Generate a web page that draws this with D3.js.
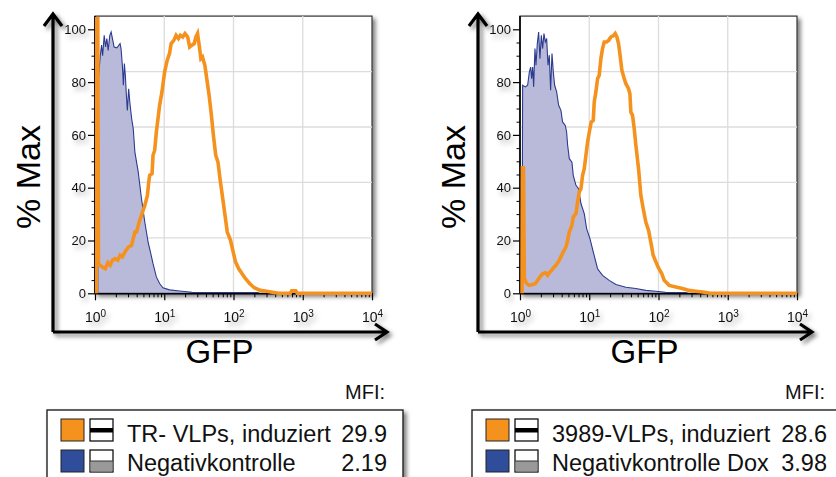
<!DOCTYPE html>
<html>
<head>
<meta charset="utf-8">
<script src="https://cdn.jsdelivr.net/npm/d3@7"></script>
<style>
  body { margin: 0; background: #fff; }
  svg { display: block; font-family: "Liberation Sans", Arial, sans-serif; }
</style>
</head>
<body>
<div id="chart"></div>
<script>
// Histogram values: [log10(GFP), % of max]
const trVlpInduced = [
  [0.02, 0], [0.02, 104], [0.04, 104], [0.05, 11.2], [0.1, 10], [0.148, 9.3], [0.186, 11.6],
  [0.219, 10.6], [0.252, 12.5], [0.29, 13.1], [0.329, 12.5], [0.362, 14.4], [0.395, 13.8],
  [0.433, 15.7], [0.481, 17.5], [0.529, 18.2], [0.552, 20.7], [0.576, 23.2], [0.6, 23.2],
  [0.638, 27], [0.671, 29.5], [0.719, 33.3], [0.757, 37.1], [0.776, 42.2], [0.79, 44.7],
  [0.824, 45.3], [0.838, 52.3], [0.862, 54.2], [0.886, 61.1], [0.91, 66.2], [0.933, 71.2],
  [0.967, 76.3], [1.005, 83.8], [1.043, 88.3], [1.076, 90.8], [1.1, 94.6], [1.138, 95.8],
  [1.171, 97.7], [1.205, 96.5], [1.233, 97.7], [1.267, 97.1], [1.3, 98.4], [1.338, 97.1],
  [1.367, 93.3], [1.395, 93.9], [1.433, 94.6], [1.457, 97.1], [1.481, 98.4], [1.505, 93.9],
  [1.529, 88.9], [1.552, 89.5], [1.586, 86.4], [1.614, 81.3], [1.648, 75], [1.681, 67.4],
  [1.71, 59.8], [1.743, 52.3], [1.776, 49.7], [1.805, 43.4], [1.838, 37.1], [1.871, 30.8],
  [1.91, 23.2], [1.957, 20.1], [1.995, 15.7], [2.029, 11.9], [2.076, 9.3], [2.124, 7.4],
  [2.171, 5.6], [2.233, 3.7], [2.3, 2.1], [2.386, 1.1], [2.48, 0.8], [2.56, 0.4], [2.65, 0],
  [2.82, 0], [2.84, 0.9], [2.9, 0.9], [2.92, 0], [4, 0]
];
const negControl = [
  [0.04, 0], [0.045, 80], [0.076, 90], [0.095, 94], [0.11, 90], [0.133, 97.7], [0.152, 93.3],
  [0.171, 96.5], [0.19, 92], [0.214, 97.7], [0.233, 99], [0.252, 96.5], [0.276, 93.3],
  [0.314, 93], [0.338, 93.7], [0.362, 94.6], [0.376, 92.7], [0.395, 86.4], [0.41, 78.8],
  [0.424, 87], [0.438, 82.6], [0.452, 75.6], [0.467, 69.3], [0.486, 77.5], [0.505, 71.8],
  [0.529, 66.2], [0.552, 62.4], [0.576, 53.5], [0.624, 46], [0.671, 35.9], [0.719, 27],
  [0.767, 19.4], [0.8, 15.7], [0.838, 11.2], [0.886, 6.2], [0.933, 3.7], [0.981, 2.1],
  [1.076, 1.3], [1.22, 0.9], [1.4, 0.4], [2.35, 0.3], [2.37, 0]
];
const vlp3989Induced = [
  [0.03, 0], [0.035, 47.5], [0.05, 47.5], [0.063, 5.6], [0.096, 3.7], [0.135, 3], [0.183, 3.3],
  [0.221, 3.7], [0.255, 4.9], [0.288, 6.2], [0.327, 7.4], [0.365, 7.8], [0.399, 6.8],
  [0.423, 7.8], [0.457, 8.7], [0.481, 9.6], [0.519, 10.6], [0.558, 12.1], [0.591, 13.8],
  [0.625, 15.7], [0.663, 17.5], [0.688, 20.1], [0.712, 23.2], [0.75, 25.8], [0.769, 28.9],
  [0.808, 30.2], [0.832, 34.6], [0.856, 38.4], [0.88, 39.6], [0.904, 44.7], [0.928, 47.2],
  [0.952, 52.3], [0.976, 57.3], [1.01, 62.4], [1.029, 64.9], [1.058, 65.5], [1.072, 72.5],
  [1.096, 76.3], [1.12, 81.3], [1.144, 82.6], [1.168, 88.9], [1.192, 92.7], [1.216, 95.2],
  [1.25, 95.2], [1.279, 95.8], [1.313, 97.1], [1.346, 97.5], [1.375, 98.4], [1.399, 97.1],
  [1.423, 94.6], [1.442, 90.8], [1.471, 84.5], [1.505, 81.3], [1.529, 79.4], [1.567, 77.5],
  [1.587, 75.6], [1.601, 68.7], [1.625, 67.4], [1.649, 62.4], [1.673, 56.1], [1.712, 47.2],
  [1.745, 37.1], [1.779, 32.1], [1.817, 27], [1.856, 23.9], [1.889, 19.4], [1.923, 14.4],
  [1.962, 11.9], [2, 9.6], [2.048, 7.4], [2.082, 4.9], [2.154, 3], [2.25, 2.4], [2.346, 1.8],
  [2.442, 1.1], [2.538, 0.8], [2.64, 0.5], [2.75, 0], [4, 0]
];
const negControlDox = [
  [0.03, 0], [0.038, 78.8], [0.077, 78.2], [0.11, 78.8], [0.135, 83.8], [0.154, 85.7],
  [0.168, 81.3], [0.183, 85.7], [0.197, 78.2], [0.216, 92.7], [0.231, 86.4], [0.25, 94.6],
  [0.269, 99], [0.288, 88.9], [0.308, 97.7], [0.327, 92.7], [0.346, 98.4], [0.365, 95.2],
  [0.385, 96.5], [0.404, 86.4], [0.423, 90.2], [0.442, 76.9], [0.462, 90.8], [0.481, 83.8],
  [0.5, 78.8], [0.529, 76.3], [0.558, 71.2], [0.591, 69.3], [0.615, 64.9], [0.654, 63.6],
  [0.673, 61.1], [0.688, 56.1], [0.712, 51], [0.75, 49.7], [0.769, 44.7], [0.808, 40.9],
  [0.846, 39.6], [0.88, 34], [0.928, 30.2], [0.962, 24.5], [1.01, 20.7], [1.058, 15.7],
  [1.12, 9.3], [1.192, 6.8], [1.288, 4.9], [1.385, 3.3], [1.529, 2.3], [1.673, 1.8],
  [1.817, 1.1], [1.962, 0.8], [2.1, 0.4], [2.4, 0.3], [2.42, 0]
];

const gfpTicks = [1, 10, 100, 1000, 10000];
const pctTicks = [0, 20, 40, 60, 80, 100];
const xLabel = 'GFP';
const yLabel = '% Max';
const mfiLabel = 'MFI:';
const namesLeft = ['TR- VLPs, induziert', 'Negativkontrolle'];
const mfiLeft = ['29.9', '2.19'];
const namesRight = ['3989-VLPs, induziert', 'Negativkontrolle Dox'];
const mfiRight = ['28.6', '3.98'];

const ORANGE = '#f5921e';
const BLUE = '#2c3b8f';
const FILL = '#b9bada';

const svg = d3.select('#chart').append('svg')
  .attr('width', 836)
  .attr('height', 477);

const defs = svg.append('defs');
defs.append('filter').attr('id', 'shadow')
  .attr('x', '-10%').attr('y', '-10%').attr('width', '130%').attr('height', '130%')
  .append('feDropShadow')
  .attr('dx', 3).attr('dy', 3).attr('stdDeviation', 2)
  .attr('flood-color', '#000').attr('flood-opacity', 0.5);
defs.append('filter').attr('id', 'glow')
  .attr('x', '-50%').attr('y', '-50%').attr('width', '200%').attr('height', '200%')
  .append('feDropShadow')
  .attr('dx', 3).attr('dy', 4).attr('stdDeviation', 2.5)
  .attr('flood-color', '#000').attr('flood-opacity', 0.3);

const panels = [
  { dx: 0, orange: trVlpInduced, blue: negControl, names: namesLeft, mfi: mfiLeft, valueRight: 387, boxRight: 403 },
  { dx: 425, orange: vlp3989Induced, blue: negControlDox, names: namesRight, mfi: mfiRight, valueRight: 827, boxRight: 850 }
];

panels.forEach((p, pi) => {
  const x = d3.scaleLog().domain([1, 1e4]).range([95 + p.dx, 372 + p.dx]);
  const y = d3.scaleLinear().domain([0, 100]).range([293.3, 29.3]);
  const top = y(105), bottom = y(0);
  const left = x(1), right = x(1e4);
  const g = svg.append('g');

  // big arrow axes
  const arrows = g.append('g')
    .attr('filter', 'url(#shadow)')
    .attr('fill', 'none')
    .attr('stroke', '#000')
    .attr('stroke-width', 3.2);
  const ax = left - 42, ay = 332;
  arrows.append('path').attr('d', `M${ax},${ay} V14 M${ax - 9},26 L${ax},14 L${ax + 9},26`);
  arrows.append('path').attr('d', `M${ax},${ay} H${right + 15} M${right + 3},${ay - 8} L${right + 15},${ay} L${right + 3},${ay + 8}`);

  // plot box
  g.append('rect')
    .attr('x', left).attr('y', top)
    .attr('width', right - left).attr('height', bottom - top)
    .attr('fill', '#fff')
    .attr('stroke', '#333')
    .attr('stroke-width', 1.2)
    .attr('filter', 'url(#shadow)');

  // grid
  g.append('g').selectAll('line')
    .data(gfpTicks.slice(1, -1))
    .join('line')
    .attr('x1', d => x(d)).attr('x2', d => x(d))
    .attr('y1', top).attr('y2', bottom)
    .attr('stroke', '#dcdcdc').attr('stroke-width', 1.3);
  g.append('g').selectAll('line')
    .data([1, 2, 3, 4])
    .join('line')
    .attr('x1', left).attr('x2', right)
    .attr('y1', k => bottom - (bottom - top) * k / 5)
    .attr('y2', k => bottom - (bottom - top) * k / 5)
    .attr('stroke', '#dcdcdc').attr('stroke-width', 1.3);

  const clipId = 'clip' + pi;
  defs.append('clipPath').attr('id', clipId)
    .append('rect')
    .attr('x', left).attr('y', top)
    .attr('width', right - left).attr('height', bottom - top + 3);

  const area = d3.area()
    .x(d => x(10 ** d[0]))
    .y0(bottom)
    .y1(d => y(d[1]));
  const line = d3.line()
    .x(d => x(10 ** d[0]))
    .y(d => y(d[1]));

  g.append('path')
    .datum(p.blue)
    .attr('clip-path', `url(#${clipId})`)
    .attr('d', area)
    .attr('fill', FILL)
    .attr('stroke', BLUE)
    .attr('stroke-width', 1.1);

  // y axis
  const yAxis = g.append('g')
    .attr('transform', `translate(${left},0)`)
    .call(d3.axisLeft(y).tickValues(pctTicks).tickSize(7).tickSizeOuter(0).tickPadding(2));
  yAxis.select('.domain').remove();
  yAxis.selectAll('line').attr('stroke', '#000').attr('stroke-width', 1.2);
  yAxis.selectAll('text')
    .attr('font-size', 13)
    .attr('font-family', '"Liberation Sans", Arial, sans-serif')
    .attr('fill', '#111')
    .attr('filter', 'url(#glow)');
  g.append('g').attr('transform', `translate(${left},0)`)
    .call(d3.axisLeft(y).tickValues(d3.range(5, 100, 5).filter(v => v % 20)).tickSize(3.5).tickFormat(''))
    .call(a => a.select('.domain').remove())
    .selectAll('line').attr('stroke', '#000').attr('stroke-width', 1);
  g.append('line')
    .attr('x1', left).attr('x2', left)
    .attr('y1', top).attr('y2', bottom)
    .attr('stroke', '#000').attr('stroke-width', 1.6);

  // x axis
  g.append('g').attr('transform', `translate(0,${bottom})`)
    .call(d3.axisBottom(x).tickValues(x.ticks().filter(v => !gfpTicks.includes(v))).tickSize(4).tickFormat(''))
    .call(a => a.select('.domain').remove())
    .selectAll('line').attr('stroke', '#000').attr('stroke-width', 1);
  const xAxis = g.append('g')
    .attr('transform', `translate(0,${bottom})`)
    .call(d3.axisBottom(x).tickValues(gfpTicks).tickSize(7).tickSizeOuter(0).tickPadding(12));
  xAxis.select('.domain').attr('stroke', '#000').attr('stroke-width', 1.6);
  xAxis.selectAll('line').attr('stroke', '#000').attr('stroke-width', 1.2);
  xAxis.selectAll('text')
    .attr('font-size', 14)
    .attr('font-family', '"Liberation Sans", Arial, sans-serif')
    .attr('fill', '#111')
    .attr('filter', 'url(#glow)')
    .each(function(d) {
      const t = d3.select(this).text(null);
      t.append('tspan').text('10');
      t.append('tspan').attr('dy', '-0.55em').attr('font-size', 10).text(Math.round(Math.log10(d)));
    });

  g.append('path')
    .datum(p.orange)
    .attr('clip-path', `url(#${clipId})`)
    .attr('d', line)
    .attr('fill', 'none')
    .attr('stroke', ORANGE)
    .attr('stroke-width', 3.6);

  // axis titles
  g.append('text')
    .attr('transform', `translate(${left - 55},177) rotate(-90)`)
    .attr('text-anchor', 'middle')
    .attr('font-size', 34)
    .attr('fill', '#000')
    .text(yLabel);
  g.append('text')
    .attr('x', (left + right) / 2 - 14)
    .attr('y', 363)
    .attr('text-anchor', 'middle')
    .attr('font-size', 33)
    .attr('fill', '#000')
    .text(xLabel);

  // legend
  const lg = svg.append('g');
  const lx = 47 + p.dx;
  lg.append('rect')
    .attr('x', lx).attr('y', 410)
    .attr('width', p.boxRight - lx).attr('height', 90)
    .attr('fill', '#fff')
    .attr('stroke', '#222')
    .attr('stroke-width', 1.4)
    .attr('filter', 'url(#shadow)');
  lg.append('text')
    .attr('x', p.valueRight - 2).attr('y', 398.5)
    .attr('text-anchor', 'end')
    .attr('font-size', 20)
    .attr('fill', '#111')
    .text(mfiLabel);

  p.names.forEach((name, i) => {
    const sy = 419 + i * 31;
    lg.append('rect')
      .attr('x', lx + 14).attr('y', sy)
      .attr('width', 23).attr('height', 22)
      .attr('fill', i === 0 ? ORANGE : '#2f4d9b')
      .attr('stroke', '#222').attr('stroke-width', 1);
    lg.append('rect')
      .attr('x', lx + 43).attr('y', sy)
      .attr('width', 23).attr('height', 22)
      .attr('fill', '#fff')
      .attr('stroke', '#111').attr('stroke-width', 1.3);
    if (i === 0) {
      lg.append('rect')
        .attr('x', lx + 43).attr('y', sy + 9)
        .attr('width', 23).attr('height', 4.5)
        .attr('fill', '#000');
    } else {
      lg.append('rect')
        .attr('x', lx + 43.6).attr('y', sy + 11)
        .attr('width', 21.8).attr('height', 10.4)
        .attr('fill', '#999');
      lg.append('line')
        .attr('x1', lx + 43).attr('x2', lx + 66)
        .attr('y1', sy + 11).attr('y2', sy + 11)
        .attr('stroke', '#333').attr('stroke-width', 1);
    }
    lg.append('text')
      .attr('x', lx + 80).attr('y', 441.5 + i * 29)
      .attr('font-size', 23.5)
      .attr('fill', '#111')
      .text(name);
    lg.append('text')
      .attr('x', p.valueRight).attr('y', 441.5 + i * 29)
      .attr('text-anchor', 'end')
      .attr('font-size', 23.5)
      .attr('fill', '#111')
      .text(p.mfi[i]);
  });
});
</script>
</body>
</html>
